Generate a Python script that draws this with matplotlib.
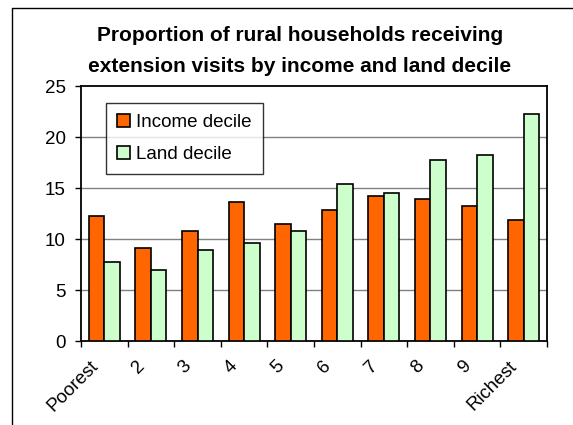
import numpy as np
import matplotlib
matplotlib.use("Agg")
import matplotlib.pyplot as plt
import matplotlib.transforms as mtransforms
from matplotlib.lines import Line2D

# data
categories = ["Poorest", "2", "3", "4", "5", "6", "7", "8", "9", "Richest"]
income_decile = [12.3, 9.1, 10.8, 13.6, 11.5, 12.8, 14.2, 13.9, 13.2, 11.9]
land_decile = [7.7, 7.0, 8.9, 9.6, 10.8, 15.4, 14.5, 17.7, 18.2, 22.3]
y_ticks = [0, 5, 10, 15, 20, 25]

plt.rcParams['font.family'] = ['Liberation Sans', 'DejaVu Sans']

fig = plt.figure(figsize=(5.73, 4.25), dpi=100)
ax = fig.add_axes([0.1414, 0.1976, 0.8132, 0.6], zorder=2)

x = np.arange(len(categories))
w = 1 / 3
ax.bar(x - w / 2, income_decile, w, color="#FF6600", edgecolor="black",
       linewidth=1.2, label="Income decile", zorder=3)
ax.bar(x + w / 2, land_decile, w, color="#CCFFCC", edgecolor="black",
       linewidth=1.2, label="Land decile", zorder=3)

ax.set_xlim(-0.5, len(categories) - 0.5)
ax.set_ylim(0, 25)
ax.set_yticks(y_ticks)
ax.tick_params(axis="y", labelsize=13.5, length=4, width=1, pad=7)
for v in y_ticks[1:-1]:
    ax.axhline(v, color="#808080", linewidth=1, zorder=1)

# category labels at centers, tick marks at boundaries
ax.set_xticks(x)
ax.set_xticklabels(categories, rotation=45, ha="right", va="top",
                   rotation_mode="anchor", fontsize=13.5)
ax.tick_params(axis="x", which="major", length=0, pad=12)
ax.set_xticks(np.arange(len(categories) + 1) - 0.5, minor=True)
ax.tick_params(axis="x", which="minor", length=4, width=1)
shift = mtransforms.ScaledTranslation(-15 / 100, 0, fig.dpi_scale_trans)
for lbl in ax.get_xticklabels():
    lbl.set_transform(lbl.get_transform() + shift)

for s in ax.spines.values():
    s.set_linewidth(1.3)
    s.set_color("black")

leg = ax.legend(loc="upper left", bbox_to_anchor=(0.0536, 0.935), fontsize=13.5,
                frameon=True, fancybox=False, edgecolor="black",
                handlelength=0.7, handleheight=0.7, handletextpad=0.3,
                labelspacing=0.8, borderpad=0.6, borderaxespad=0)
leg.get_frame().set_linewidth(1)

fig.text(0.5236, 0.88, "Proportion of rural households receiving\nextension visits by income and land decile",
         ha="center", va="center", fontsize=15, fontweight="bold", linespacing=1.75)

# outer chart-area border (cut off at right and bottom)
fig.add_artist(Line2D([12 / 573, 12 / 573, 1.0], [0.0, 1 - 8 / 425, 1 - 8 / 425],
                      color="black", linewidth=1))

fig.savefig("out.png", dpi=100)
